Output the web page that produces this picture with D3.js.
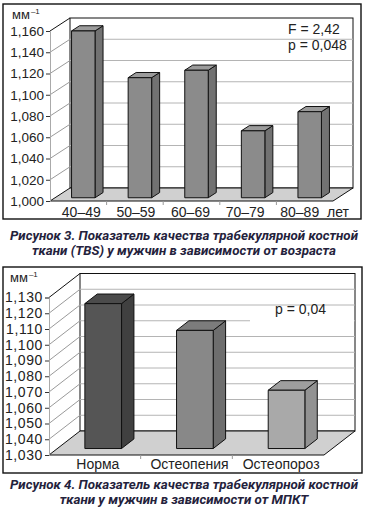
<!DOCTYPE html>
<html>
<head>
<meta charset="utf-8">
<script src="https://cdn.jsdelivr.net/npm/d3@7"></script>
<style>
  body { margin: 0; background: #fff; }
  svg text { font-family: "Liberation Sans", Arial, sans-serif; }
</style>
</head>
<body>
<script>
// figure 3: TBS by age group
var ageGroups = ["40–49", "50–59", "60–69", "70–79", "80–89"];
var tbsByAge = [1.157, 1.113, 1.120, 1.063, 1.081];
var ageTicks = [1.000, 1.020, 1.040, 1.060, 1.080, 1.100, 1.120, 1.140, 1.160];

// figure 4: TBS by BMD status
var bmdGroups = ["Норма", "Остеопения", "Остеопороз"];
var tbsByBmd = [1.122, 1.105, 1.067];
var bmdTicks = [1.030, 1.040, 1.050, 1.060, 1.070, 1.080, 1.090, 1.100, 1.110, 1.120, 1.130];

var fmt = function (v) { return d3.format(".3f")(v).replace(".", ","); };

var svg = d3.select("body").append("svg")
  .attr("width", 367)
  .attr("height", 510);

function drawChart(o) {
  var g = svg.append("g");
  var lo = o.ticks[0], hi = o.ticks[o.ticks.length - 1];
  var y = d3.scaleLinear().domain([lo, hi]).range([o.yBot, o.yTop]);
  var x = d3.scaleBand().domain(o.cats).range([o.xL, o.xR]);
  var dx = o.dx, dy = o.dy;

  // outer frame
  g.append("rect")
    .attr("x", o.frame[0]).attr("y", o.frame[1])
    .attr("width", o.frame[2] - o.frame[0]).attr("height", o.frame[3] - o.frame[1])
    .attr("fill", "#fff").attr("stroke", "#111").attr("stroke-width", 1.4);

  // back wall
  g.append("rect")
    .attr("x", o.xL + dx).attr("y", y(hi) + dy)
    .attr("width", o.xR - o.xL).attr("height", y(lo) - y(hi))
    .attr("fill", "#fff").attr("stroke", "#111").attr("stroke-width", 1);

  // gridlines on back wall + side wall diagonals
  g.selectAll(".grid").data(o.ticks.slice(1, -1)).enter().append("line")
    .attr("x1", o.xL + dx).attr("x2", o.xR + dx)
    .attr("y1", function (d) { return y(d) + dy; })
    .attr("y2", function (d) { return y(d) + dy; })
    .attr("stroke", "#b4b4b4").attr("stroke-width", 1);

  g.selectAll(".diag").data(o.ticks.slice(1, -1)).enter().append("line")
    .attr("x1", o.xL).attr("x2", o.xL + dx)
    .attr("y1", function (d) { return y(d); })
    .attr("y2", function (d) { return y(d) + dy; })
    .attr("stroke", "#9a9a9a").attr("stroke-width", 1);

  g.append("line")
    .attr("x1", o.xL).attr("y1", y(hi))
    .attr("x2", o.xL + dx).attr("y2", y(hi) + dy)
    .attr("stroke", "#111");

  // floor
  var f = y(lo);
  g.append("polygon")
    .attr("points", [[o.xL, f], [o.xR, f], [o.xR + dx, f + dy], [o.xL + dx, f + dy]].join(" "))
    .attr("fill", "#d0d0d0").attr("stroke", "#111").attr("stroke-width", 1);

  // white box behind stat text
  if (o.statBox) {
    g.append("rect")
      .attr("x", o.statBox[0]).attr("y", o.statBox[1])
      .attr("width", o.statBox[2]).attr("height", o.statBox[3])
      .attr("fill", "#fff");
  }

  // y axis
  var yAxis = d3.axisLeft(y).tickValues(o.ticks).tickFormat(fmt).tickSize(4).tickPadding(2);
  var ya = g.append("g").attr("transform", "translate(" + o.xL + ",0)").call(yAxis);
  ya.select(".domain").attr("stroke", "#aaa");
  ya.selectAll(".tick line").attr("stroke", "#333");
  ya.selectAll(".tick text")
    .attr("font-family", "Liberation Sans, Arial, sans-serif")
    .attr("font-size", o.tickFont).attr("fill", "#222")
    .attr("letter-spacing", o.tickSpacing);
  ya.attr("font-family", null).attr("font-size", null);

  // category boundary ticks
  g.selectAll(".ctick").data(d3.range(1, o.cats.length)).enter().append("line")
    .attr("x1", function (i) { return o.xL + i * x.step(); })
    .attr("x2", function (i) { return o.xL + i * x.step(); })
    .attr("y1", f).attr("y2", f + 4)
    .attr("stroke", "#999");

  // category labels
  var xl = d3.scaleBand().domain(o.cats).range(o.labelRange);
  var xa = g.append("g").attr("transform", "translate(0," + f + ")")
    .call(d3.axisBottom(xl).tickSize(0).tickPadding(0));
  xa.select(".domain").remove();
  xa.selectAll(".tick text")
    .attr("font-family", "Liberation Sans, Arial, sans-serif")
    .attr("font-size", 14).attr("fill", "#222")
    .attr("y", o.labelBase).attr("dy", 0);

  // bars, 3D boxes
  var bw = x.bandwidth() * o.barFrac;
  var f0x = o.bar0 * dx, f0y = o.bar0 * dy;
  var f1x = o.bar1 * dx, f1y = o.bar1 * dy;
  o.values.forEach(function (v, i) {
    var c = o.colors[Math.min(i, o.colors.length - 1)];
    var cx = x(o.cats[i]) + x.bandwidth() / 2;
    var xa0 = cx - bw / 2 + f0x, xa1 = cx + bw / 2 + f0x;
    var yt = y(v) + f0y, yb = y(lo) + f0y;
    var ex = f1x - f0x, ey = f1y - f0y;
    var b = g.append("g").attr("stroke", "#111").attr("stroke-width", 1).attr("stroke-linejoin", "round");
    b.append("polygon")
      .attr("points", [[xa1, yt], [xa1 + ex, yt + ey], [xa1 + ex, yb + ey], [xa1, yb]].join(" "))
      .attr("fill", c.side);
    b.append("polygon")
      .attr("points", [[xa0, yt], [xa0 + ex, yt + ey], [xa1 + ex, yt + ey], [xa1, yt]].join(" "))
      .attr("fill", c.top);
    b.append("rect")
      .attr("x", xa0).attr("y", yt).attr("width", bw).attr("height", yb - yt)
      .attr("fill", c.front);
  });

  // unit label
  var u = g.append("text").attr("x", o.unit[0]).attr("y", o.unit[1])
    .attr("font-size", 13).attr("fill", "#222");
  u.append("tspan").text("мм");
  u.append("tspan").attr("font-size", 8).attr("dy", -5).attr("dx", 1).text("–1");

  return g;
}

var g1 = drawChart({
  frame: [3, 4, 361, 219],
  cats: ageGroups, values: tbsByAge, ticks: ageTicks,
  xL: 50, xR: 333, yTop: 31, yBot: 201, dx: 20, dy: -13,
  bar0: 0.25, bar1: 0.65, barFrac: 0.415,
  tickFont: 13.5, tickSpacing: 0,
  labelRange: [54, 327], labelBase: 16,
  colors: [{ front: "#8b8b8b", top: "#9b9b9b", side: "#727272" }],
  unit: [12, 19]
});
g1.append("text").attr("x", 327).attr("y", 217).attr("font-size", 14).attr("fill", "#222").text("лет");
g1.append("text").attr("x", 288).attr("y", 34).attr("font-size", 14).attr("fill", "#222").text("F = 2,42");
g1.append("text").attr("x", 288).attr("y", 50).attr("font-size", 14).attr("fill", "#222").text("p = 0,048");

var g2 = drawChart({
  frame: [3, 267, 362, 473],
  cats: bmdGroups, values: tbsByBmd, ticks: bmdTicks,
  xL: 49, xR: 324, yTop: 297.5, yBot: 455, dx: 31, dy: -24,
  bar0: 0.27, bar1: 0.67, barFrac: 0.4,
  tickFont: 14, tickSpacing: 0.6,
  labelRange: [52, 327], labelBase: 14,
  statBox: [250, 309, 104, 14],
  colors: [
    { front: "#555555", top: "#4b4b4b", side: "#404040" },
    { front: "#888888", top: "#7c7c7c", side: "#6e6e6e" },
    { front: "#a9a9a9", top: "#9e9e9e", side: "#929292" }
  ],
  unit: [10, 282]
});
g2.append("text").attr("x", 275).attr("y", 314).attr("font-size", 14).attr("fill", "#222").text("p = 0,04");

// captions: all lines share the horizontal squeeze that makes the first line 348px wide
var captions = [
  { t: "Рисунок 3. Показатель качества трабекулярной костной", y: 240 },
  { t: "ткани (TBS) у мужчин в зависимости от возраста", y: 255 },
  { t: "Рисунок 4. Показатель качества трабекулярной костной", y: 489 },
  { t: "ткани у мужчин в зависимости от МПКТ", y: 504 }
];
var cap = svg.selectAll(".cap").data(captions).enter().append("text")
  .attr("x", 184)
  .attr("y", function (d) { return d.y; })
  .attr("text-anchor", "middle")
  .style("font-family", "Roboto, 'Open Sans', sans-serif")
  .style("font-weight", "bold").style("font-style", "italic")
  .attr("font-size", 12.5).attr("fill", "#24223c")
  .text(function (d) { return d.t; });
var squeeze = 348 / cap.node().getComputedTextLength();
cap.each(function () {
  var w = this.getComputedTextLength() * squeeze;
  d3.select(this).attr("textLength", w).attr("lengthAdjust", "spacingAndGlyphs");
});
</script>
</body>
</html>
